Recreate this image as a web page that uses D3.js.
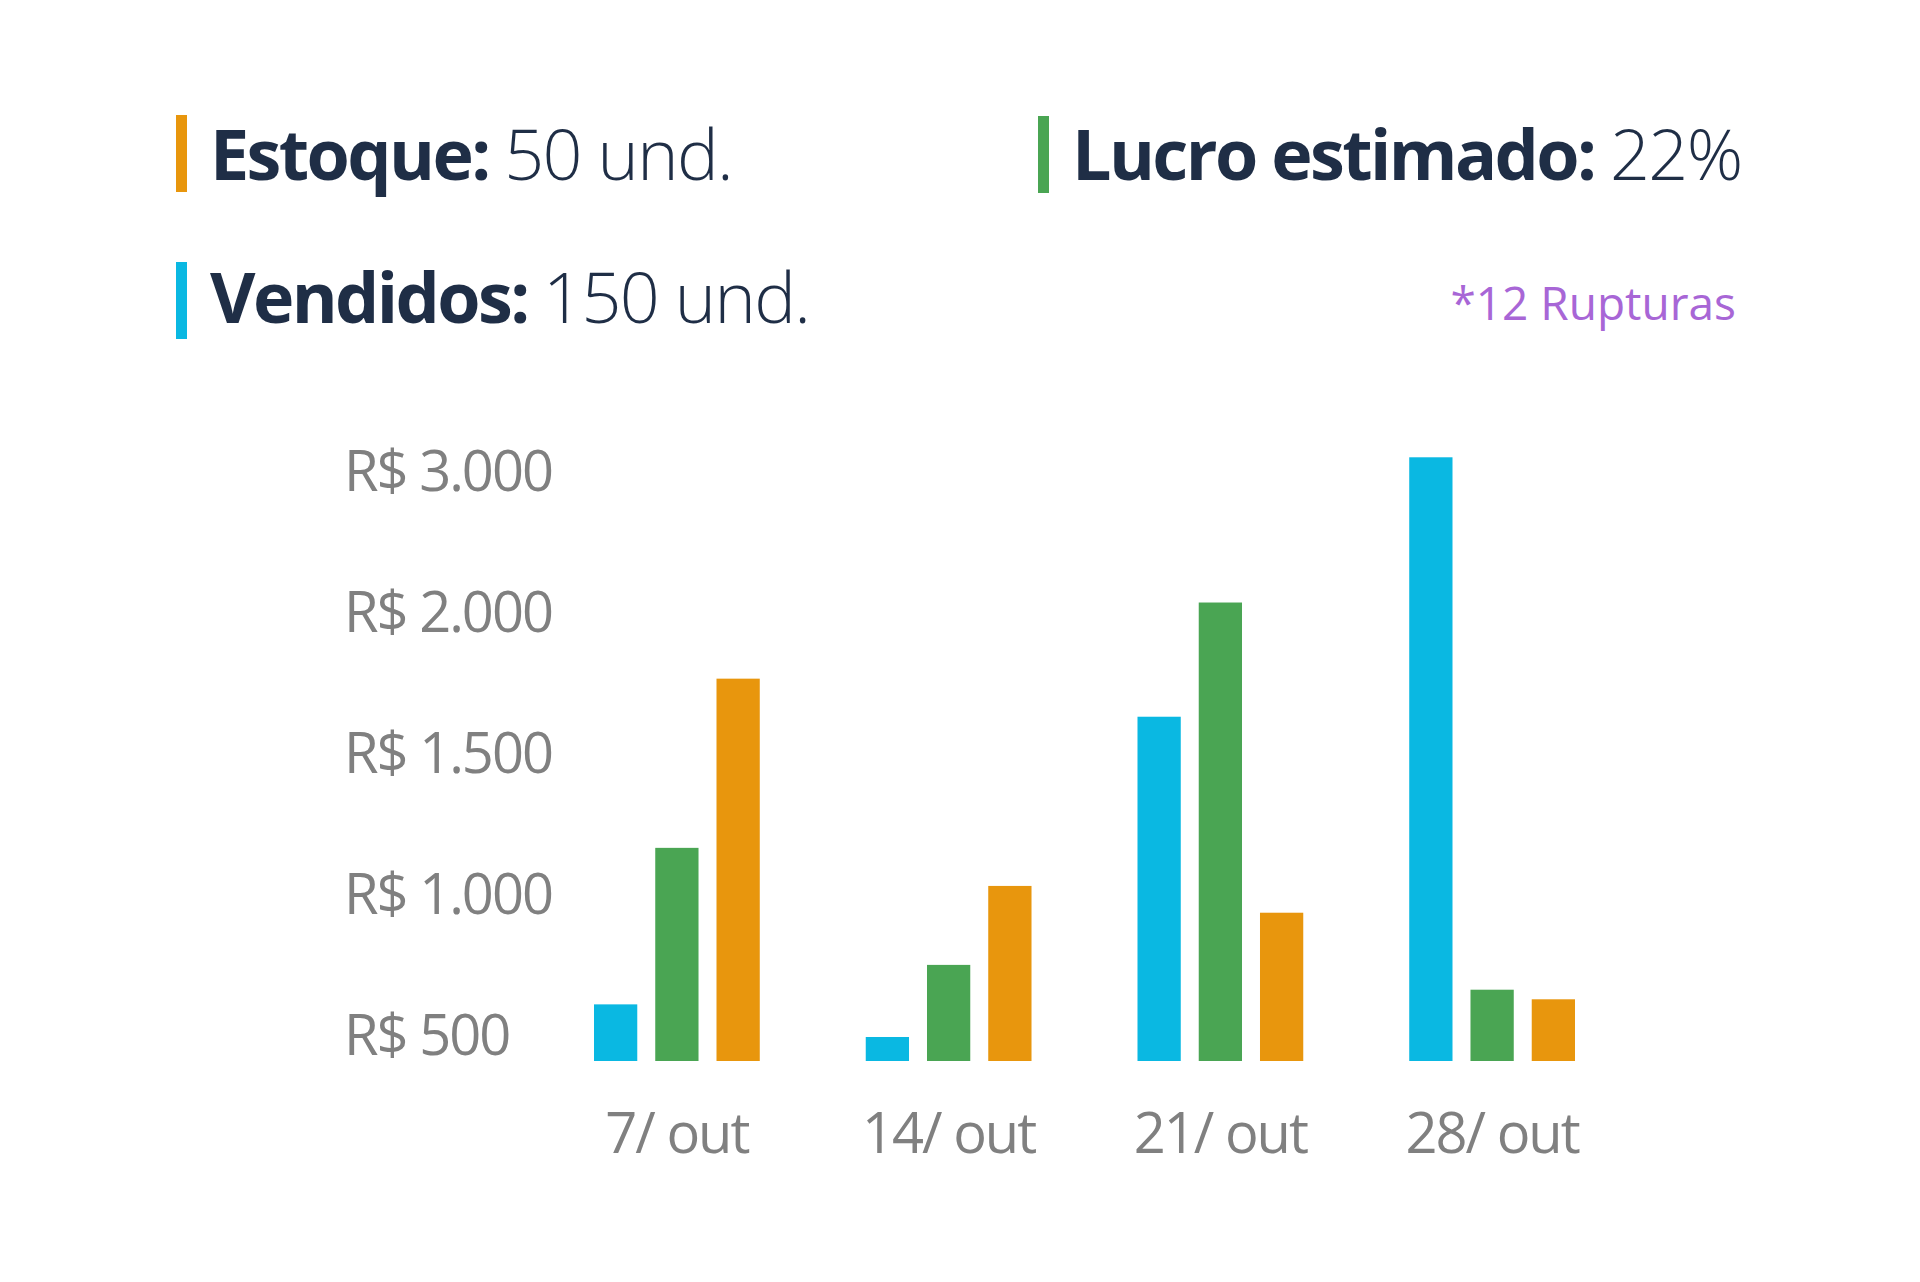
<!DOCTYPE html>
<html>
<head>
<meta charset="utf-8">
<script src="https://cdn.jsdelivr.net/npm/d3@7"></script>
<style>
  html, body { margin: 0; padding: 0; background: #ffffff; }
  svg { display: block; }
  text { font-family: "Open Sans", "Noto Sans", sans-serif; }
</style>
</head>
<body>
<div id="chart"></div>
<script>
// ---- data ----
const categories = ["7/ out", "14/ out", "21/ out", "28/ out"];
const seriesKeys = ["Vendidos", "Lucro", "Estoque"];
const vendidos = [615, 496, 1635, 3110];
const lucro = [1170, 755, 2080, 667];
const estoque = [1770, 1035, 940, 633];
const yTickValues = [500, 1000, 1500, 2000, 3000];
const legendLabels = ["Estoque:", "Lucro estimado:", "Vendidos:"];
const legendValues = ["50 und.", "22%", "150 und."];
const legendKeys = ["Estoque", "Lucro", "Vendidos"];
const noteText = "*12 Rupturas";

// ---- styles ----
const colors = { Vendidos: "#0ab8e2", Lucro: "#4aa553", Estoque: "#e8960d" };
const navy = "#1f2e46";
const grey = "#808080";
const purple = "#a866d6";

const W = 1920, H = 1282;
const svg = d3.select("#chart").append("svg")
  .attr("width", W).attr("height", H)
  .attr("viewBox", `0 0 ${W} ${H}`);
svg.append("rect").attr("width", W).attr("height", H).attr("fill", "#fff");

const seriesData = { Vendidos: vendidos, Lucro: lucro, Estoque: estoque };
const rows = categories.map((c, i) => ({
  cat: c,
  values: seriesKeys.map(k => ({ key: k, value: seriesData[k][i] }))
}));

// ---- scales ----
const x0 = d3.scaleBand().domain(categories).range([594, 1575])
  .paddingInner(0.39).paddingOuter(0);
const x1 = d3.scaleBand().domain(seriesKeys).range([0, x0.bandwidth()])
  .paddingInner(0.2936).paddingOuter(0);
// non-uniform axis: equally spaced ticks 500, 1.000, 1.500, 2.000, 3.000
const y = d3.scaleLinear()
  .domain([0, 500, 1000, 1500, 2000, 3000])
  .range([1061, 1036.8, 895.8, 754.8, 613.8, 472.8]);

// ---- bars ----
const groups = svg.append("g").selectAll("g").data(rows).join("g")
  .attr("transform", d => `translate(${x0(d.cat)},0)`);
groups.selectAll("rect").data(d => d.values).join("rect")
  .attr("x", d => x1(d.key))
  .attr("width", x1.bandwidth())
  .attr("y", d => y(d.value))
  .attr("height", d => y(0) - y(d.value))
  .attr("fill", d => colors[d.key]);

// ---- y axis ----
const ptBR = d3.formatLocale({ decimal: ",", thousands: ".", grouping: [3], currency: ["R$ ", ""] });
const fmt = ptBR.format("$,.0f");
const yAxis = svg.append("g")
  .call(d3.axisLeft(y).tickValues(yTickValues).tickFormat(fmt).tickSize(0));
yAxis.select(".domain").remove();
yAxis.selectAll(".tick line").remove();
yAxis.selectAll(".tick text")
  .attr("x", 344)
  .attr("text-anchor", "start")
  .attr("fill", grey)
  .style("font-size", "56px")
  .style("letter-spacing", "-2px")
  .style("font-family", "'Open Sans', sans-serif");

// ---- x axis ----
const xAxis = svg.append("g").attr("transform", "translate(0,1153)")
  .call(d3.axisBottom(x0).tickSize(0).tickPadding(0));
xAxis.select(".domain").remove();
xAxis.selectAll(".tick text")
  .attr("y", 0).attr("dy", 0)
  .attr("fill", grey)
  .style("font-size", "56px")
  .style("letter-spacing", "-2px")
  .style("font-family", "'Open Sans', sans-serif");

// ---- legend ----
const legendPos = [
  { bx: 176, by: 115, tx: 210, ty: 180 },
  { bx: 1038, by: 116, tx: 1072, ty: 180 },
  { bx: 176, by: 262, tx: 210, ty: 323 }
];
legendLabels.forEach((lab, i) => {
  const p = legendPos[i];
  svg.append("rect")
    .attr("x", p.bx).attr("y", p.by).attr("width", 11).attr("height", 77)
    .attr("fill", colors[legendKeys[i]]);
  const t = svg.append("text")
    .attr("x", p.tx).attr("y", p.ty)
    .attr("fill", navy)
    .style("font-size", "70px");
  t.append("tspan").style("font-weight", 700).style("letter-spacing", "-2.6px").text(lab + " ");
  t.append("tspan").style("font-weight", 300).style("letter-spacing", "-1.6px").text(legendValues[i]);
});

svg.append("text")
  .attr("x", 1736).attr("y", 320)
  .attr("text-anchor", "end")
  .attr("fill", purple)
  .style("font-size", "46px")
  .text(noteText);
</script>
</body>
</html>
